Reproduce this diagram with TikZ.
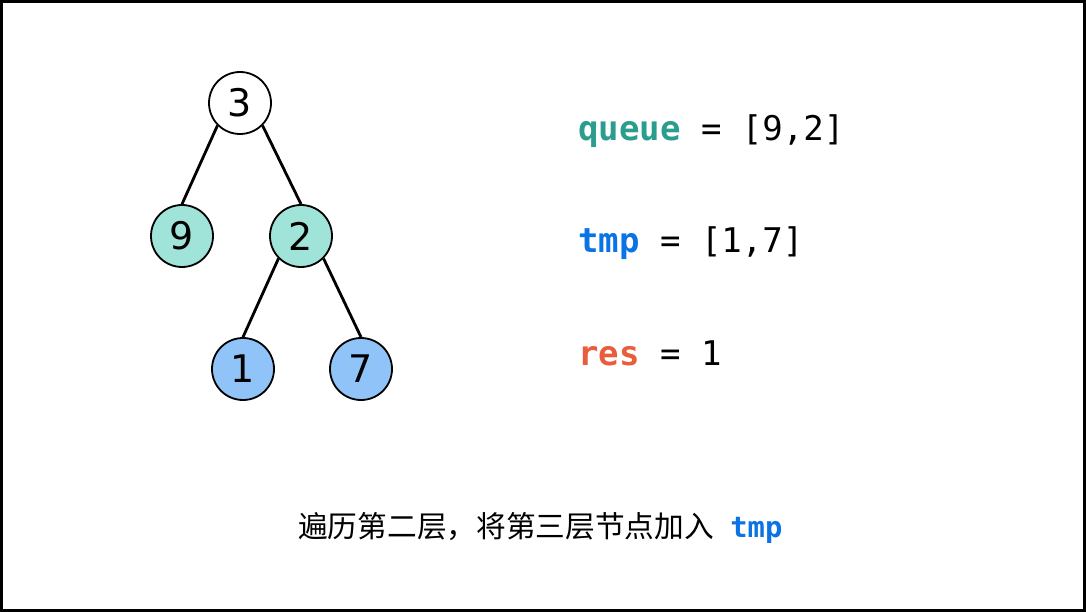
\documentclass[tikz,border=0pt]{standalone}
\usepackage{fontspec}
\setmainfont{DejaVu Sans}
\setmonofont{DejaVu Sans Mono}
\newfontfamily\cjk{Noto Sans CJK SC}
\definecolor{qteal}{HTML}{2A9D8F}
\definecolor{tblue}{HTML}{0A73E6}
\definecolor{rred}{HTML}{E85D3C}
\definecolor{lteal}{HTML}{A0E4D9}
\definecolor{lblue}{HTML}{90C4F9}
\tikzset{
  tnode/.style={circle,draw=black,line width=1.8pt,minimum size=62pt,inner sep=0pt,font=\fontsize{38}{40}\selectfont},
  edge/.style={line width=2.8pt},
  code/.style={anchor=base west,inner sep=0pt,font=\fontsize{34}{36}\ttfamily}
}
\begin{document}
\begin{tikzpicture}[x=1pt,y=-1pt]
\useasboundingbox (0,0) rectangle (1086,612);
\draw[line width=3pt] (1.5,1.5) rectangle (1084.5,610.5);
\node[tnode,fill=white] (n3) at (240,103) {3};
\node[tnode,fill=lteal] (n9) at (182,236) {9};
\node[tnode,fill=lteal] (n2) at (301,236) {2};
\node[tnode,fill=lblue] (n1) at (243,369) {1};
\node[tnode,fill=lblue] (n7) at (361,369) {7};
\draw[edge] (n3.south west) -- (n9.north);
\draw[edge] (n3.south east) -- (n2.north);
\draw[edge] (n2.south west) -- (n1.north);
\draw[edge] (n2.south east) -- (n7.north);
\node[code] (q) at (578,141) {\textcolor{qteal}{\bfseries queue} = [9,2]};
\node[code] (t) at (578,253) {\textcolor{tblue}{\bfseries tmp} = [1,7]};
\node[code] (r) at (578,365) {\textcolor{rred}{\bfseries res} = 1};
\node[anchor=base west,inner sep=0pt] (cap) at (298,537) {\cjk\fontsize{29.7}{32}\selectfont 遍历第二层，将第三层节点加入\hspace{0.55em}{\ttfamily\bfseries\fontsize{28.8}{32}\selectfont\textcolor{tblue}{tmp}}};
\end{tikzpicture}
\end{document}
